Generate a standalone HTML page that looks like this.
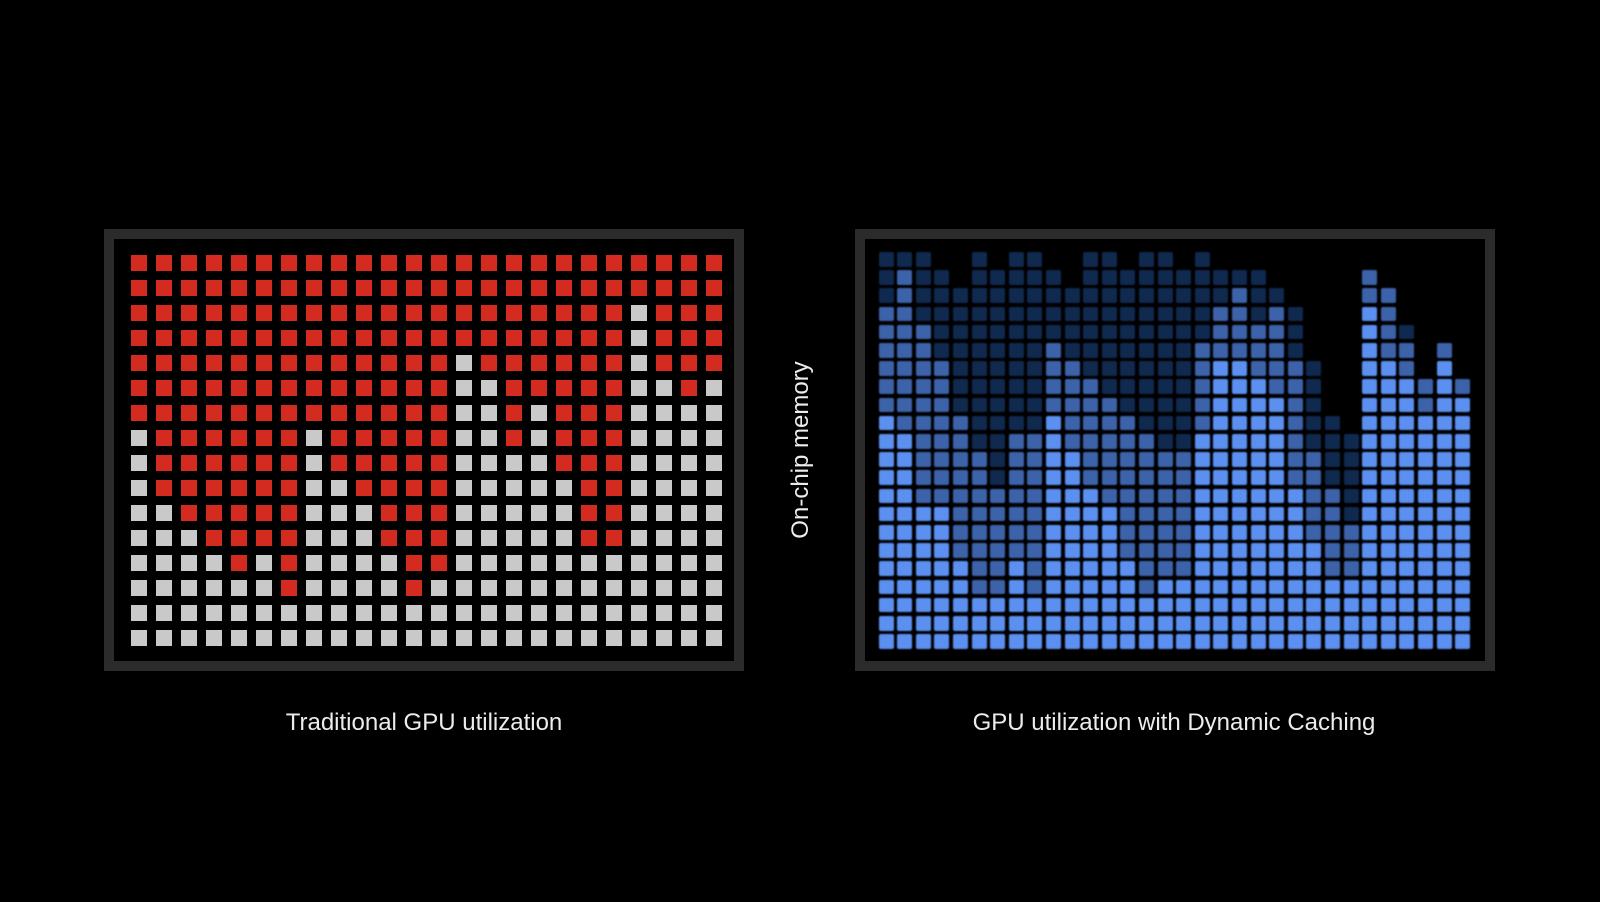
<!DOCTYPE html>
<html><head><meta charset="utf-8">
<style>
html,body{margin:0;padding:0;background:#000;width:1600px;height:902px;overflow:hidden;position:relative;font-family:"Liberation Sans",sans-serif;}
.frame{position:absolute;top:229px;width:620px;height:422px;border:10px solid #2b2b2b;background:#000;}
.sq{position:absolute;}
.lbl{position:absolute;color:#ececec;font-size:24px;top:709px;white-space:nowrap;transform:translateX(-50%);}
#rot{position:absolute;left:801px;top:450px;color:#ececec;font-size:24px;transform:translate(-50%,-50%) rotate(-90deg);white-space:nowrap;}
#blue{filter:blur(0.8px);}
</style></head><body>
<div class="frame" style="left:104px"></div>
<div class="frame" style="left:855px"></div>
<div id="red"></div>
<div id="blue"></div>
<div class="lbl" style="left:424px">Traditional GPU utilization</div>
<div class="lbl" style="left:1174px">GPU utilization with Dynamic Caching</div>
<div id="rot">On-chip memory</div>
<script>
var gray={2:[20],3:[20],4:[13,20],5:[13,14,20,21,23],6:[13,14,16,20,21,22,23],
7:[0,7,13,14,16,20,21,22,23],8:[0,7,13,14,15,16,20,21,22,23],
9:[0,7,8,13,14,15,16,17,20,21,22,23],10:[0,1,7,8,9,13,14,15,16,17,20,21,22,23],
11:[0,1,2,7,8,9,13,14,15,16,17,20,21,22,23]};
var redOnly={12:[4,6,11,12],13:[6,11]};
var h='';
for(var r=0;r<16;r++)for(var c=0;c<24;c++){
 var isRed;
 if(r<=1)isRed=true;
 else if(r>=14)isRed=false;
 else if(redOnly[r])isRed=redOnly[r].indexOf(c)>=0;
 else isRed=!(gray[r]&&gray[r].indexOf(c)>=0);
 h+='<div class="sq" style="left:'+(130.5+c*25)+'px;top:'+(254.5+r*25)+'px;width:16.5px;height:16.5px;background:'+(isRed?'#d32b1f':'#c9c9c9')+'"></div>';
}
document.getElementById('red').innerHTML=h;
var cols=[[0,3,9],[0,1,10],[0,4,14],[1,6,14],[2,9,17],[0,11,19],[1,13,19],[0,10,17],[0,10,19],[1,5,9],
[2,6,11],[0,7,13],[0,8,14],[1,9,17],[0,10,19],[0,11,18],[1,11,18],[0,5,10],[1,3,6],[1,2,6],
[1,4,7],[2,3,8],[3,6,13],[6,11,16],[9,13,18],[10,15,18],[1,1,3],[2,2,6],[4,5,7],[7,7,9],[5,5,6],[7,7,8]];
h='';
for(var c=0;c<32;c++){var p=cols[c];for(var r=p[0];r<22;r++){
 var col=r>=p[2]?'#5b8ff0':(r>=p[1]?'#3c62a9':'#10294f');
 h+='<div class="sq" style="left:'+(878.6+c*18.6)+'px;top:'+(252+r*18.2)+'px;width:15px;height:14.5px;border-radius:2px;background:'+col+'"></div>';
}}
document.getElementById('blue').innerHTML=h;
</script>
</body></html>
